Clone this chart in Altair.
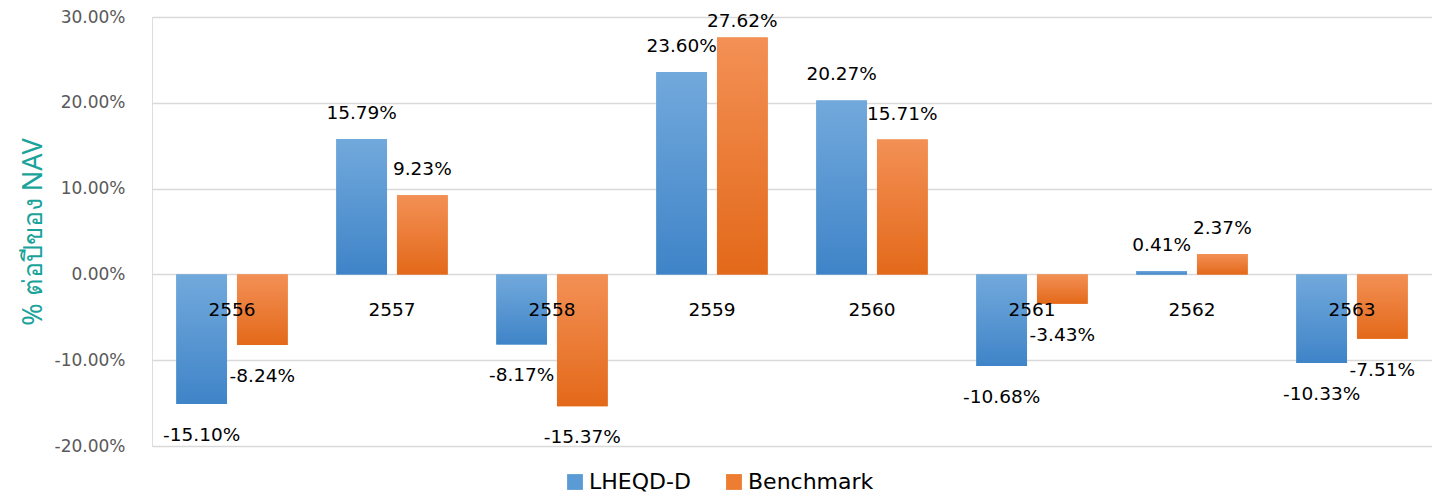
import altair as alt
import pandas as pd

years = ["2556", "2557", "2558", "2559", "2560", "2561", "2562", "2563"]
fund = [-15.10, 15.79, -8.17, 23.60, 20.27, -10.68, 0.41, -10.33]
bench = [-8.24, 9.23, -15.37, 27.62, 15.71, -3.43, 2.37, -7.51]
series = ["LHEQD-D", "Benchmark"]
yticks = [-20, -10, 0, 10, 20, 30]

rows = []
for i, y in enumerate(years):
    rows.append({"year": y, "series": series[0], "value": fund[i]})
    rows.append({"year": y, "series": series[1], "value": bench[i]})
df = pd.DataFrame(rows)
df["label"] = df["value"].map(lambda v: f"{v:.2f}%")

yr = pd.DataFrame({"year": years, "zero": [0] * len(years)})

FONT = "DejaVu Sans"

xenc = alt.X("year:N", sort=years, axis=None,
             scale=alt.Scale(paddingInner=0.304, paddingOuter=0.152))
xoff = alt.XOffset("series:N", sort=series, scale=alt.Scale(paddingInner=0.164))
yscale = alt.Scale(domain=[-20, 30], nice=False)
yenc = alt.Y("value:Q", scale=yscale,
             axis=alt.Axis(values=yticks,
                           labelExpr="(datum.value < 0 ? '-' : '') + format(abs(datum.value), '.2f') + '%'",
                           title="% ต่อปีของ NAV", titleColor="#1aa39a", titleFontSize=27,
                           titleFont="Noto Sans", titleFontWeight="normal", titlePadding=7,
                           labelColor="#595959", labelFontSize=17, labelFont=FONT, labelPadding=27,
                           domain=False, ticks=False, grid=True, gridColor="#d9d9d9", gridWidth=1.5))

base = alt.Chart(df)

bars = base.mark_bar().encode(
    x=xenc, xOffset=xoff, y=yenc,
    color=alt.Color("series:N", sort=series,
                    scale=alt.Scale(domain=series, range=["#5b9bd5", "#ed7d31"]),
                    legend=alt.Legend(orient="none", direction="horizontal", legendX=412, legendY=454,
                                      title=None, labelFontSize=22, labelFont=FONT, labelColor="#000000",
                                      symbolType="square", symbolSize=250, symbolStrokeWidth=0,
                                      columnPadding=32, labelOffset=3)),
)

blue_grad = alt.Gradient(gradient="linear", x1=0, y1=0, x2=0, y2=1,
                         stops=[alt.GradientStop(color="#72a9dc", offset=0),
                                alt.GradientStop(color="#3f84c8", offset=1)])
orange_grad = alt.Gradient(gradient="linear", x1=0, y1=0, x2=0, y2=1,
                           stops=[alt.GradientStop(color="#f39055", offset=0),
                                  alt.GradientStop(color="#e3691a", offset=1)])

gb = base.mark_bar(fill=blue_grad).encode(x=xenc, xOffset=xoff, y="value:Q").transform_filter(
    alt.datum.series == series[0])
go = base.mark_bar(fill=orange_grad).encode(x=xenc, xOffset=xoff, y="value:Q").transform_filter(
    alt.datum.series == series[1])

txt = dict(fontSize=18.5, font=FONT, color="#000000", baseline="middle")
lab_pos = base.mark_text(dy=-26, **txt).encode(
    x=xenc, xOffset=xoff, y="value:Q", text="label:N").transform_filter(
    (alt.datum.value >= 0) & (alt.datum.value < 25))
lab_top = base.mark_text(dy=-16, **txt).encode(
    x=xenc, xOffset=xoff, y="value:Q", text="label:N").transform_filter(alt.datum.value >= 25)
lab_neg = base.mark_text(dy=31, **txt).encode(
    x=xenc, xOffset=xoff, y="value:Q", text="label:N").transform_filter(alt.datum.value < 0)

cats = alt.Chart(yr).mark_text(dy=36, **txt).encode(
    x=alt.X("year:N", sort=years, axis=None), y=alt.Y("zero:Q"), text="year:N")

chart = alt.layer(bars, gb, go, lab_pos, lab_top, lab_neg, cats).properties(
    width=1280, height=429,
    autosize=alt.AutoSizeParams(type="none"),
    padding={"left": 144, "top": 9, "right": 0, "bottom": 52},
).configure_view(stroke=None).configure(background="#ffffff")

chart.save("out.html", embed_options={"renderer": "svg", "actions": False})
